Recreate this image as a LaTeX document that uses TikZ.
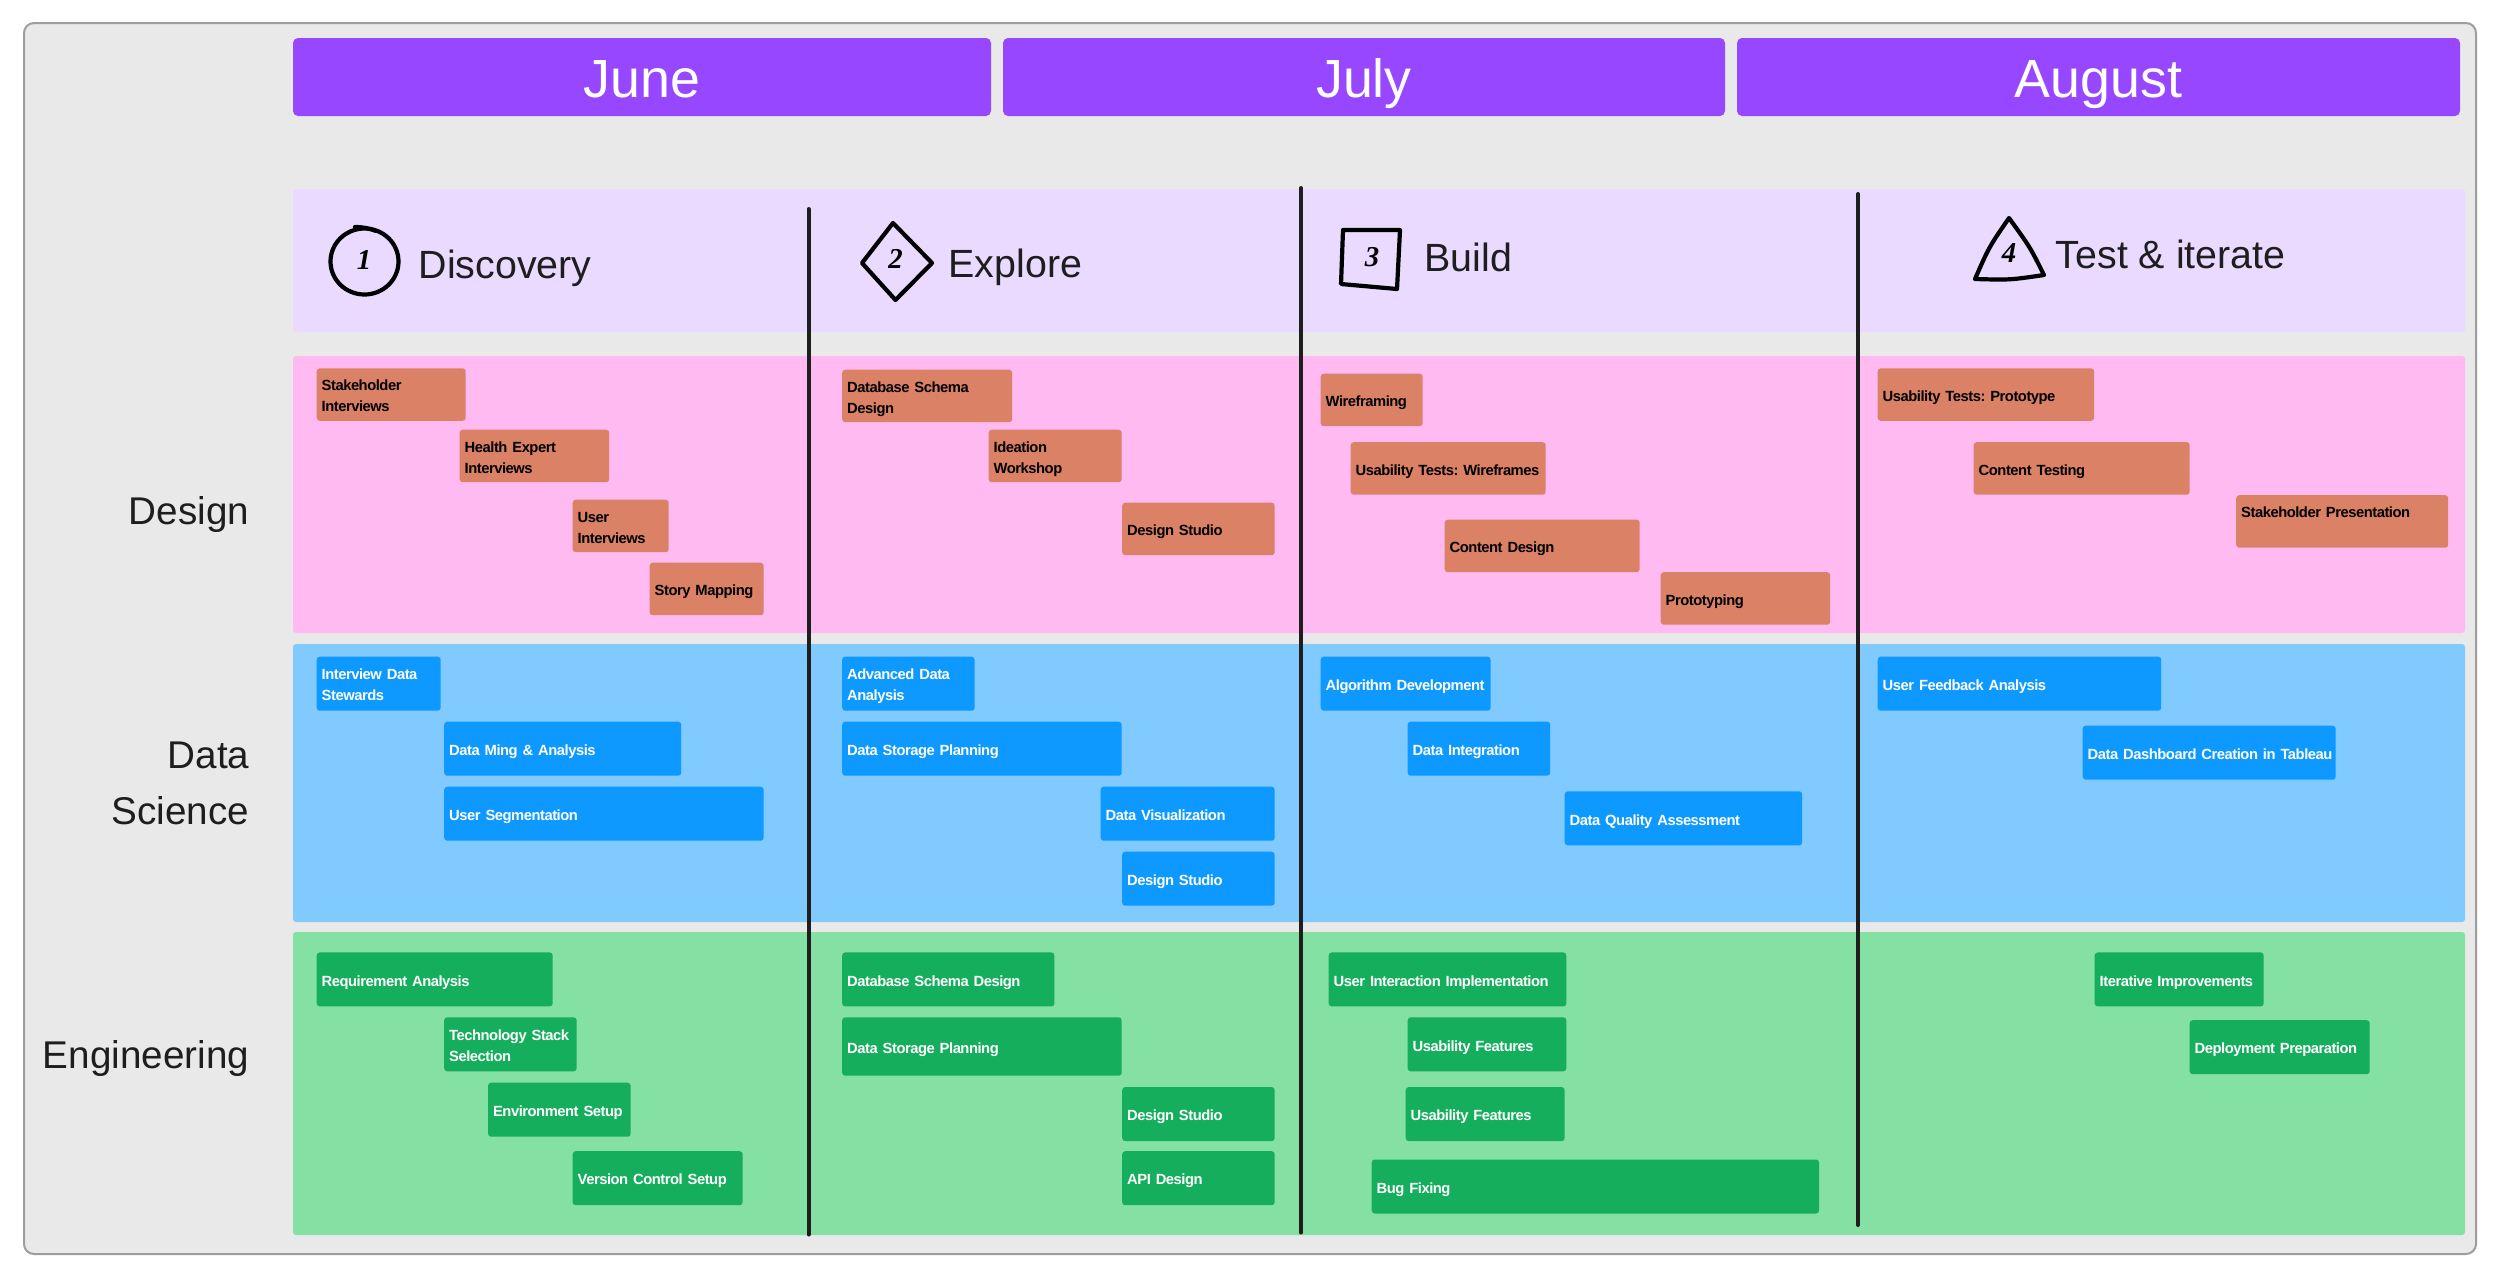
\documentclass[tikz,border=0pt]{standalone}
\usepackage{fontspec}
\setmainfont{Liberation Sans}
\newfontfamily\digitfont{Liberation Serif}
\newfontfamily\taskfont{Liberation Sans}[LetterSpace=-3.2]
\usepackage{xcolor}
\usepackage{tikz}
\usetikzlibrary{positioning}
\definecolor{panelgray}{HTML}{E9E9E9}
\definecolor{panelline}{HTML}{9E9E9E}
\definecolor{monthfill}{HTML}{9747FF}
\definecolor{phasefill}{HTML}{EADAFF}
\definecolor{desband}{HTML}{FFBBF1}
\definecolor{desbar}{HTML}{DB8166}
\definecolor{sciband}{HTML}{80CAFF}
\definecolor{scibar}{HTML}{0D99FF}
\definecolor{engband}{HTML}{85E0A3}
\definecolor{engbar}{HTML}{14AE5C}
\definecolor{inkdark}{HTML}{1E1E1E}

\begin{document}
\begin{tikzpicture}[x=1cm,y=1cm,
  month/.style={fill=monthfill,rounded corners=0.05cm,text=white,font=\fontsize{15.3}{18}\selectfont,minimum height=0.78cm,inner sep=0pt,text height=0.4cm,text depth=0pt},
  phase/.style={anchor=base west,font=\fontsize{11.2}{13}\selectfont,text=inkdark,inner sep=0pt},
  rowname/.style={anchor=east,align=right,font=\fontsize{11}{16}\selectfont,text=inkdark,inner sep=0pt},
  band/.style={rounded corners=0.03cm},
  divider/.style={draw=inkdark,line width=0.04cm,line cap=round},
  sketch/.style={draw=black,line width=0.042cm,line join=round,line cap=round},
  digit/.style={font=\digitfont\fontsize{8.2}{10}\selectfont\bfseries\itshape,inner sep=0pt},
  task/.style={anchor=north west,xshift=-0.01cm,yshift=0.01cm,rounded corners=0.03cm,align=left,inner xsep=0.05cm,inner ysep=0pt,font=\taskfont\fontsize{4.2}{6}\selectfont\bfseries\frenchspacing,execute at begin node={\rule{0pt}{5.6pt}\strut},execute at end node=\strut},
  barw/.style={text width=#1cm-0.1cm},
  destask/.style={task,fill=desbar,text=black,minimum height=0.525cm},
  scitask/.style={task,fill=scibar,text=white,minimum height=0.54cm},
  engtask/.style={task,fill=engbar,text=white,minimum height=0.54cm}
]
\useasboundingbox (0,0) rectangle (25,-12.78);
\draw[fill=panelgray,draw=panelline,line width=0.02cm,rounded corners=0.1cm] (0.24,-0.23) rectangle (24.76,-12.54);

\node[month,minimum width=6.98cm] (june) at (6.42,-0.77) {June};
\node[month,minimum width=7.22cm] (july) at (13.64,-0.77) {July};
\node[month,minimum width=7.23cm] (august) at (20.985,-0.77) {August};

\fill[band,phasefill] (2.93,-1.89) rectangle (24.65,-3.32);
\fill[band,desband] (2.93,-3.56) rectangle (24.65,-6.33);
\fill[band,sciband] (2.93,-6.44) rectangle (24.65,-9.22);
\fill[band,engband] (2.93,-9.32) rectangle (24.65,-12.35);

\node[rowname,anchor=base east] (design) at (2.5,-5.245) {Design};
\node[rowname] (science) at (2.5,-7.83) {Data\\Science};
\node[rowname,anchor=base east] (engineering) at (2.5,-10.68) {Engineering};

\draw[divider] (8.085,-2.09) -- (8.085,-12.345);
\draw[divider] (13.01,-1.88) -- (13.01,-12.325);
\draw[divider] (18.58,-1.94) -- (18.58,-12.25);

\draw[sketch] (3.645,-2.615) ellipse (0.34 and 0.33);
\draw[sketch] (3.55,-2.27) to[bend left=10] (3.76,-2.31);
\node[digit] (one) at (3.64,-2.6) {1};
\node[phase] (discovery) at (4.18,-2.78) {Discovery};

\draw[sketch] (8.93,-2.23) -- (9.32,-2.63) -- (8.955,-3) -- (8.62,-2.63) -- cycle;
\node[digit] (two) at (8.955,-2.59) {2};
\node[phase] (explore) at (9.48,-2.775) {Explore};

\draw[sketch] (13.43,-2.3) -- (14,-2.3) -- (13.97,-2.89) -- (13.41,-2.84) -- cycle;
\node[digit] (three) at (13.72,-2.57) {3};
\node[phase] (build) at (14.24,-2.71) {Build};

\draw[sketch] (20.09,-2.18) .. controls (20.3,-2.47) .. (20.44,-2.75) .. controls (20.1,-2.8) .. (19.75,-2.79) .. controls (19.89,-2.47) .. cycle;
\node[digit] (four) at (20.09,-2.53) {4};
\node[phase] (test) at (20.55,-2.686) {Test \& iterate};

\node[destask,barw=1.49] (stakeholder) at (3.17,-3.686) {Stakeholder\\Interviews};
\node[destask,barw=1.495] (expert) at (4.6,-4.3) {Health Expert\\Interviews};
\node[destask,barw=0.96] (user) at (5.73,-5) {User\\Interviews};
\node[destask,barw=1.14] (mapping) at (6.5,-5.63) {Story Mapping};
\node[destask,barw=1.7] (schema) at (8.425,-3.7) {Database Schema\\Design};
\node[destask,barw=1.33] (ideation) at (9.89,-4.3) {Ideation\\Workshop};
\node[destask,barw=1.525] (studio) at (11.225,-5.03) {Design Studio};
\node[destask,barw=1.02] (wireframing) at (13.21,-3.74) {Wireframing};
\node[destask,barw=1.95] (wiretests) at (13.51,-4.425) {\mbox{Usability Tests: Wireframes}};
\node[destask,barw=1.95] (content) at (14.45,-5.2) {Content Design};
\node[destask,barw=1.695] (prototyping) at (16.61,-5.725) {Prototyping};
\node[destask,barw=2.165] (prototests) at (18.78,-3.686) {Usability Tests: Prototype};
\node[destask,barw=2.16] (contenttest) at (19.74,-4.425) {Content Testing};
\node[destask,barw=2.12] (presentation) at (22.365,-4.955) {Stakeholder Presentation\\\mbox{}};

\node[scitask,barw=1.24] (stewards) at (3.17,-6.57) {Interview Data\\Stewards};
\node[scitask,barw=2.37] (mining) at (4.445,-7.22) {Data Ming \& Analysis};
\node[scitask,barw=3.195] (segmentation) at (4.445,-7.87) {User Segmentation};
\node[scitask,barw=1.325] (advanced) at (8.425,-6.57) {Advanced Data\\Analysis};
\node[scitask,barw=2.795] (storage) at (8.425,-7.22) {Data Storage Planning};
\node[scitask,barw=1.74] (visualization) at (11.01,-7.87) {Data Visualization};
\node[scitask,barw=1.525] (scistudio) at (11.225,-8.52) {Design Studio};
\node[scitask,barw=1.7] (algorithm) at (13.21,-6.57) {\mbox{Algorithm Development}};
\node[scitask,barw=1.425] (integration) at (14.08,-7.22) {Data Integration};
\node[scitask,barw=2.375] (quality) at (15.65,-7.916) {Data Quality Assessment};
\node[scitask,barw=2.835] (feedback) at (18.78,-6.57) {User Feedback Analysis};
\node[scitask,barw=2.53] (dashboard) at (20.83,-7.26) {\mbox{Data Dashboard Creation in Tableau}};

\node[engtask,barw=2.36] (requirement) at (3.17,-9.527) {Requirement Analysis};
\node[engtask,barw=1.325] (stack) at (4.445,-10.176) {\mbox{Technology Stack}\\Selection};
\node[engtask,barw=1.426] (environment) at (4.884,-10.83) {\mbox{Environment Setup}};
\node[engtask,barw=1.7] (version) at (5.73,-11.515) {Version Control Setup};
\node[engtask,barw=2.122] (engschema) at (8.425,-9.527) {Database Schema Design};
\node[engtask,barw=2.795,minimum height=0.584cm] (engstorage) at (8.425,-10.176) {Data Storage Planning};
\node[engtask,barw=1.525] (engstudio) at (11.225,-10.874) {Design Studio};
\node[engtask,barw=1.525] (api) at (11.225,-11.515) {API Design};
\node[engtask,barw=2.376] (interaction) at (13.29,-9.527) {\mbox{User Interaction Implementation}};
\node[engtask,barw=1.586] (featuresa) at (14.08,-10.176) {Usability Features};
\node[engtask,barw=1.59] (featuresb) at (14.06,-10.874) {Usability Features};
\node[engtask,barw=4.474] (bugfix) at (13.72,-11.598) {Bug Fixing};
\node[engtask,barw=1.69] (iterative) at (20.95,-9.527) {\mbox{Iterative Improvements}};
\node[engtask,barw=1.8] (deployment) at (21.9,-10.205) {\mbox{Deployment Preparation}};
\end{tikzpicture}
\end{document}
